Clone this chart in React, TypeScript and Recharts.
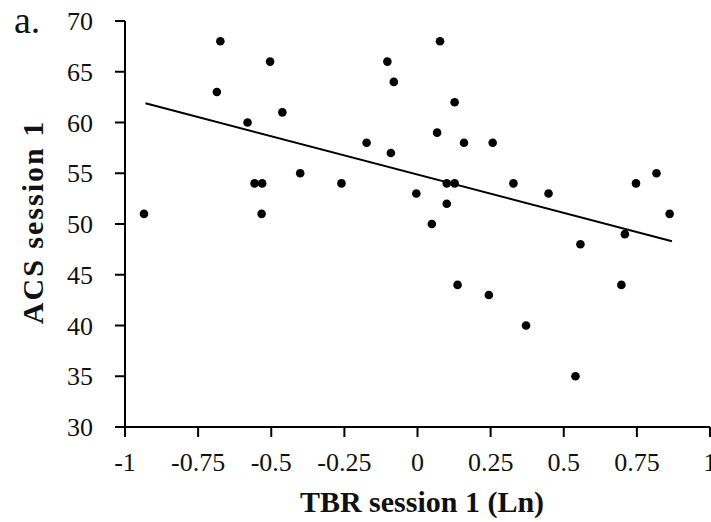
import { ScatterChart, Scatter, XAxis, YAxis, ReferenceLine } from 'recharts';

// TBR (Ln) vs ACS, session 1
const tbr = [
  -0.935, -0.674, -0.504, -0.686, -0.581, -0.462, -0.401, -0.557, -0.531, -0.533,
  -0.26, -0.174, -0.091, -0.103, -0.081, -0.004, 0.077, 0.127, 0.067, 0.159,
  0.257, 0.1, 0.127, 0.328, 0.1, 0.049, 0.448, 0.747, 0.817, 0.862,
  0.557, 0.709, 0.137, 0.244, 0.371, 0.697, 0.54,
];
const acs = [
  51, 68, 66, 63, 60, 61, 55, 54, 54, 51,
  54, 58, 57, 66, 64, 53, 68, 62, 59, 58,
  58, 54, 54, 54, 52, 50, 53, 54, 55, 51,
  48, 49, 44, 43, 40, 44, 35,
];

// fitted line end points
const fitX = [-0.93, 0.87];
const fitY = [61.9, 48.3];

const xTicks = [-1, -0.75, -0.5, -0.25, 0, 0.25, 0.5, 0.75, 1];
const yTicks = [30, 35, 40, 45, 50, 55, 60, 65, 70];

const points = tbr.map((x, i) => ({ x, y: acs[i] }));
const segment = fitX.map((x, i) => ({ x, y: fitY[i] }));

const font = "'Liberation Serif', 'Times New Roman', serif";
const tickStyle = { fontSize: 26, fill: '#111', style: { fontFamily: font } };
const tickLine = { stroke: '#000', strokeWidth: 2 };

const Dot = (props: any) => <circle cx={props.cx} cy={props.cy} r={4.3} fill="#000" />;

export default function App() {
  return (
    <div style={{ position: 'absolute', left: 0, top: 0, width: 711, height: 522, background: '#fff', fontFamily: font }}>
      <ScatterChart width={711} height={522} margin={{ top: 21, right: 1, bottom: 0, left: 0 }} style={{ fontFamily: font }}>
        <XAxis
          type="number"
          dataKey="x"
          domain={[-1, 1]}
          ticks={xTicks}
          height={95}
          tickSize={10}
          tickMargin={16}
          interval={0}
          stroke="#000"
          strokeWidth={2}
          tickLine={tickLine}
          tick={tickStyle}
          allowDataOverflow
        />
        <YAxis
          type="number"
          dataKey="y"
          domain={[30, 70]}
          ticks={yTicks}
          width={125}
          tickSize={10}
          tickMargin={22}
          interval={0}
          stroke="#000"
          strokeWidth={2}
          tickLine={tickLine}
          tick={tickStyle}
          allowDataOverflow
        />
        <ReferenceLine segment={segment} stroke="#000" strokeWidth={2} ifOverflow="visible" />
        <Scatter data={points} shape={Dot} isAnimationActive={false} />
      </ScatterChart>
      <svg width={711} height={522} style={{ position: 'absolute', left: 0, top: 0, pointerEvents: 'none', fontFamily: font }}>
        <text x={14} y={33} fontSize={38} fill="#111">a.</text>
        <text x={422} y={512} textAnchor="middle" fontSize={30} fontWeight="bold" fill="#111">
          TBR session 1 (Ln)
        </text>
        <text
          transform="translate(43, 222) rotate(-90)"
          textAnchor="middle"
          fontSize={30}
          fontWeight="bold"
          letterSpacing={2}
          fill="#111"
        >
          ACS session 1
        </text>
      </svg>
    </div>
  );
}
